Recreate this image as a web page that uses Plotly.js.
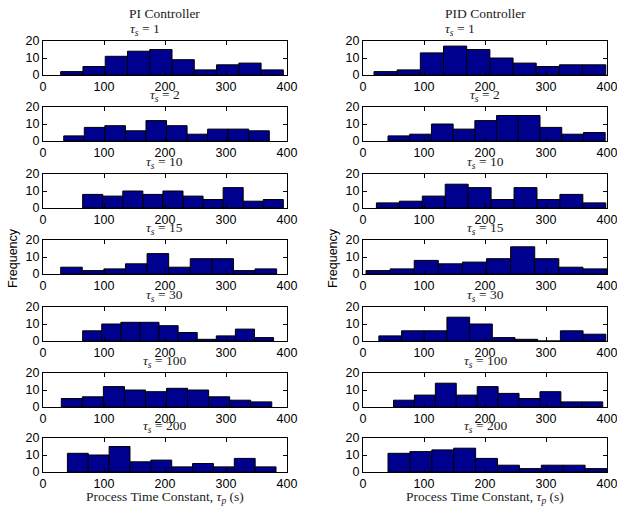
<!DOCTYPE html>
<html>
<head>
<meta charset="utf-8">
<script src="https://cdn.plot.ly/plotly-3.0.1.min.js"></script>
<style>html,body{margin:0;padding:0;background:#fff;}#chart{width:617px;height:508px;}</style>
</head>
<body>
<div id="chart"></div>
<script>
// ---- data ----
const tauS = [1, 2, 10, 15, 30, 100, 200];
const xTicks = [0, 100, 200, 300, 400];
const yTicks = [0, 10, 20];

// histogram data range (min / max of tau_p) per subplot, 10 equal bins each
const piLo  = [29, 34, 65, 29, 65, 30, 40];
const piHi  = [394, 371, 394, 383, 378, 375, 382];
const pidLo = [18, 41, 22, 5, 26, 50, 41];
const pidHi = [398, 397, 398, 400, 398, 393, 400];

// bin counts
const pi1   = [2, 5, 11, 14, 15, 9, 3, 6, 7, 3];
const pi2   = [3, 8, 9, 6, 12, 9, 4, 7, 7, 6];
const pi10  = [8, 7, 10, 8, 10, 7, 5, 12, 4, 5];
const pi15  = [4, 2, 3, 6, 12, 4, 9, 9, 2, 3];
const pi30  = [6, 10, 11, 11, 9, 5, 1, 3, 7, 2];
const pi100 = [5, 6, 12, 10, 9, 11, 10, 6, 4, 3];
const pi200 = [11, 10, 15, 6, 7, 3, 5, 3, 8, 3];

const pid1   = [2, 3, 13, 17, 15, 10, 7, 5, 6, 6];
const pid2   = [3, 4, 10, 7, 12, 15, 15, 8, 4, 5];
const pid10  = [3, 4, 7, 14, 12, 5, 12, 5, 8, 3];
const pid15  = [2, 3, 8, 6, 7, 9, 16, 9, 4, 3];
const pid30  = [3, 6, 6, 14, 10, 2, 1, 0, 6, 4];
const pid100 = [4, 7, 14, 7, 12, 8, 5, 9, 3, 3];
const pid200 = [11, 12, 13, 14, 8, 4, 2, 4, 4, 2];

const piCounts  = [pi1, pi2, pi10, pi15, pi30, pi100, pi200];
const pidCounts = [pid1, pid2, pid10, pid15, pid30, pid100, pid200];

// ---- layout geometry (pixels) ----
const W = 617, H = 508;
const colL = [[43, 287], [363, 607]];
const rowTop = [41, 107, 174, 240, 307, 373, 438];
const rowH = 34;

const traces = [];
const layout = {
  width: W, height: H,
  margin: {l: 0, r: 0, t: 0, b: 0},
  paper_bgcolor: '#fff', plot_bgcolor: '#fff',
  showlegend: false,
  annotations: []
};

const tickFont = {family: 'Liberation Sans, Arial, sans-serif', size: 12.5, color: '#000'};
const serif = 'Liberation Serif, Times New Roman, serif';

function bins(lo, hi, counts) {
  const n = counts.length, w = (hi - lo) / n;
  const xs = [], ws = [];
  for (let i = 0; i < n; i++) { xs.push(lo + w * (i + 0.5)); ws.push(w); }
  return {xs, ws};
}

let k = 0;
for (let c = 0; c < 2; c++) {
  const lo = c === 0 ? piLo : pidLo;
  const hi = c === 0 ? piHi : pidHi;
  const cnt = c === 0 ? piCounts : pidCounts;
  for (let r = 0; r < 7; r++) {
    k++;
    const xa = 'xaxis' + (k === 1 ? '' : k), ya = 'yaxis' + (k === 1 ? '' : k);
    const xr = 'x' + (k === 1 ? '' : k), yr = 'y' + (k === 1 ? '' : k);
    const b = bins(lo[r], hi[r], cnt[r]);
    traces.push({
      type: 'bar', x: b.xs, y: cnt[r], width: b.ws,
      xaxis: xr, yaxis: yr,
      marker: {color: '#00008F', line: {color: '#000', width: 1}},
      hoverinfo: 'skip'
    });
    const top = rowTop[r], bot = top + rowH;
    layout[xa] = {
      domain: [colL[c][0] / W, colL[c][1] / W],
      range: [0, 400], tickvals: xTicks, ticktext: xTicks.map(String),
      ticks: 'inside', ticklen: 4, tickcolor: '#000', tickwidth: 1,
      showline: true, linecolor: '#000', linewidth: 1, mirror: 'allticks',
      showgrid: false, zeroline: false, tickfont: tickFont,
      ticklabeloverflow: 'allow',
      anchor: yr, fixedrange: true
    };
    layout[ya] = {
      domain: [1 - bot / H, 1 - top / H],
      range: [0, 20], tickvals: yTicks, ticktext: yTicks.map(String),
      ticks: 'inside', ticklen: 4, tickcolor: '#000', tickwidth: 1,
      showline: true, linecolor: '#000', linewidth: 1, mirror: 'allticks',
      showgrid: false, zeroline: false, tickfont: tickFont,
      ticklabeloverflow: 'allow',
      anchor: xr, fixedrange: true
    };
    const cx = (colL[c][0] + colL[c][1]) / 2;
    layout.annotations.push({
      xref: 'paper', yref: 'paper',
      x: cx / W, y: 1 - (top - 11.5) / H,
      xshift: r === 0 ? (c === 0 ? -20 : -25) : 0,
      xanchor: 'center', yanchor: 'middle', showarrow: false,
      text: '<i>τ</i><sub><i>s</i></sub> = ' + tauS[r],
      font: {family: serif, size: 13.5, color: '#222'}
    });
  }
  const cx = (colL[c][0] + colL[c][1]) / 2;
  layout.annotations.push({
    xref: 'paper', yref: 'paper', x: cx / W, y: 1 - 14 / H,
    xanchor: 'center', yanchor: 'middle', showarrow: false,
    text: c === 0 ? 'PI Controller' : 'PID Controller',
    font: {family: serif, size: 13.5, color: '#222'}
  });
  layout.annotations.push({
    xref: 'paper', yref: 'paper', x: cx / W, y: 1 - 497 / H,
    xanchor: 'center', yanchor: 'middle', showarrow: false,
    text: 'Process Time Constant, <i>τ</i><sub><i>p</i></sub> (s)',
    font: {family: serif, size: 13.5, color: '#222'}
  });
  layout.annotations.push({
    xref: 'paper', yref: 'paper', x: (c === 0 ? 13 : 333) / W, y: 1 - 258 / H,
    xanchor: 'center', yanchor: 'middle', showarrow: false, textangle: -90,
    text: 'Frequency',
    font: {family: 'Liberation Sans, Arial, sans-serif', size: 12.5, color: '#000'}
  });
}

Plotly.newPlot('chart', traces, layout, {staticPlot: true, displayModeBar: false});
</script>
</body>
</html>
